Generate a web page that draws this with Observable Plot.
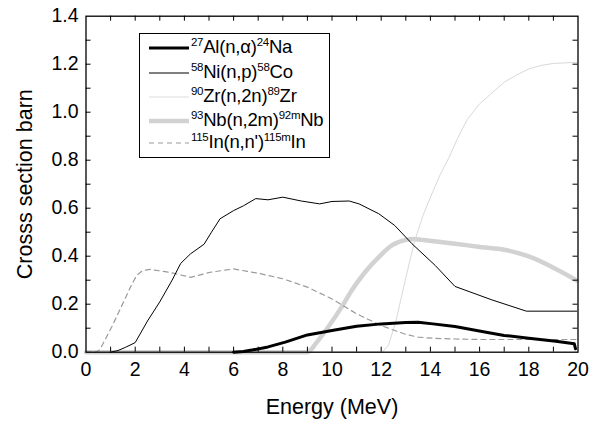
<!DOCTYPE html>
<html>
<head>
<meta charset="utf-8">
<script src="https://cdn.jsdelivr.net/npm/d3@7"></script>
<script src="https://cdn.jsdelivr.net/npm/@observablehq/plot@0.6"></script>
<style>
  html, body { margin: 0; padding: 0; background: #fff; }
  #wrap { position: relative; width: 600px; height: 428px; font-family: "Liberation Sans", Arial, sans-serif; }
  #legend { position: absolute; left: 139px; top: 33px; width: 191px; height: 125px; border: 1px solid #000; background: #fff; box-sizing: border-box; }
  .row { position: absolute; left: 0; height: 22px; display: flex; align-items: center; }
  .row svg { margin-left: 9px; margin-right: 2px; }
  .lab { font-size: 18.5px; color: #000; white-space: nowrap; line-height: 22px; letter-spacing: -0.2px; }
  .lab sup { font-size: 11.5px; vertical-align: 0; position: relative; top: -7px; letter-spacing: -0.3px; }
</style>
</head>
<body>
<div id="wrap"><div id="chart"></div><div id="legend"></div></div>
<script>
// ---- data ----
const alE = [6.0, 6.4, 6.8, 7.4, 8.1, 9.0, 10.0, 11.0, 12.0, 13.0, 13.5, 14.1, 15.0, 16.1, 17.0, 18.0, 19.1, 19.85, 19.9];
const alV = [0, 0.003, 0.01, 0.022, 0.042, 0.072, 0.09, 0.108, 0.118, 0.124, 0.125, 0.118, 0.107, 0.086, 0.07, 0.058, 0.046, 0.035, 0.014];

const niE = [1.0, 1.3, 1.6, 2.0, 2.5, 3.0, 3.5, 3.85, 4.25, 4.8, 5.1, 5.45, 6.0, 6.4, 6.9, 7.4, 8.0, 8.75, 9.5, 10.0, 10.7, 11.1, 11.9, 12.55, 13.25, 14.2, 15.0, 16.5, 17.9, 19.95];
const niV = [0, 0.007, 0.02, 0.04, 0.13, 0.21, 0.30, 0.37, 0.41, 0.45, 0.50, 0.556, 0.59, 0.61, 0.64, 0.635, 0.646, 0.63, 0.618, 0.628, 0.63, 0.618, 0.577, 0.528, 0.452, 0.361, 0.274, 0.218, 0.171, 0.171];

const zrE = [0, 12.05, 12.3, 12.6, 13.0, 13.35, 13.7, 14.1, 14.4, 14.75, 15.1, 15.5, 16.0, 16.5, 17.0, 17.5, 18.0, 18.5, 19.0, 19.95];
const zrV = [0, 0, 0.03, 0.13, 0.31, 0.46, 0.57, 0.67, 0.74, 0.81, 0.89, 0.97, 1.035, 1.08, 1.125, 1.155, 1.18, 1.195, 1.203, 1.208];

const nbE = [0, 9.0, 9.37, 9.84, 10.39, 10.8, 11.34, 11.9, 12.43, 13.0, 13.3, 13.65, 15.0, 16.1, 17.0, 18.0, 19.1, 19.95];
const nbV = [0, 0, 0.04, 0.104, 0.188, 0.257, 0.333, 0.396, 0.445, 0.468, 0.472, 0.468, 0.452, 0.4375, 0.427, 0.399, 0.347, 0.299];

const inE = [0, 0.4, 0.56, 1.04, 1.52, 1.8, 2.06, 2.3, 2.6, 3.4, 4.25, 5.05, 6.0, 7.0, 8.0, 9.0, 10.0, 11.0, 12.0, 13.0, 13.5, 14.1, 15.0, 16.0, 18.0, 19.95];
const inV = [0, 0, 0.01, 0.104, 0.208, 0.27, 0.32, 0.34, 0.345, 0.333, 0.312, 0.333, 0.347, 0.329, 0.306, 0.271, 0.222, 0.16, 0.111, 0.074, 0.063, 0.058, 0.055, 0.053, 0.053, 0.053];

const xTickLabels = [0, 2, 4, 6, 8, 10, 12, 14, 16, 18, 20];
const xMinorTicks = [1, 2, 3, 4, 5, 6, 7, 8, 9, 10, 11, 12, 13, 14, 15, 16, 17, 18, 19];
const yTickLabels = [0, 0.2, 0.4, 0.6, 0.8, 1.0, 1.2, 1.4];
const yMinorTicks = [0.1, 0.2, 0.3, 0.4, 0.5, 0.6, 0.7, 0.8, 0.9, 1.0, 1.1, 1.2, 1.3];

const legendHTML = [
  "<sup>27</sup>Al(n,&alpha;)<sup>24</sup>Na",
  "<sup>58</sup>Ni(n,p)<sup>58</sup>Co",
  "<sup>90</sup>Zr(n,2n)<sup>89</sup>Zr",
  "<sup>93</sup>Nb(n,2m)<sup>92m</sup>Nb",
  "<sup>115</sup>In(n,n')<sup>115m</sup>In"
];

const toRows = (E, V) => E.map((e, i) => ({e, v: V[i]}));

// ---- layout ----
const W = 600, H = 428, ML = 85.5, MR = 22.5, MT = 15.7, MB = 76.3;
const plotW = W - ML - MR, plotH = H - MT - MB, TL = 5;
const FS = 19.5, TFS = 21.5;

const styles = {
  al: {stroke: "#000", strokeWidth: 3},
  ni: {stroke: "#000", strokeWidth: 1},
  zr: {stroke: "#d9d9d9", strokeWidth: 1},
  nb: {stroke: "#d2d2d2", strokeWidth: 4.5},
  in: {stroke: "#9a9a9a", strokeWidth: 1.2, strokeDasharray: "5,4"}
};

const chart = Plot.plot({
  width: W, height: H,
  marginLeft: ML, marginRight: MR, marginTop: MT, marginBottom: MB,
  style: {fontFamily: "'Liberation Sans', Arial, sans-serif", fontSize: FS + "px", color: "#000", background: "#fff"},
  x: {domain: [0, 20]},
  y: {domain: [0, 1.4]},
  marks: [
    Plot.line(toRows(nbE, nbV), {x: "e", y: "v", ...styles.nb, curve: "monotone-x"}),
    Plot.line(toRows(zrE, zrV), {x: "e", y: "v", ...styles.zr}),
    Plot.line(toRows(inE, inV), {x: "e", y: "v", ...styles.in}),
    Plot.line(toRows(alE, alV), {x: "e", y: "v", ...styles.al}),
    Plot.line(toRows(niE, niV), {x: "e", y: "v", ...styles.ni}),
    Plot.frame({stroke: "#000", strokeWidth: 1.3}),
    Plot.tickX(xMinorTicks, {x: d => d, insetTop: plotH - TL, stroke: "#000"}),
    Plot.tickX(xMinorTicks, {x: d => d, insetBottom: plotH - TL, stroke: "#000"}),
    Plot.tickY(yMinorTicks, {y: d => d, insetRight: plotW - TL, stroke: "#000"}),
    Plot.tickY(yMinorTicks, {y: d => d, insetLeft: plotW - TL, stroke: "#000"}),
    Plot.axisX(xTickLabels, {tickSize: 0, tickPadding: 10, label: null, fontSize: FS}),
    Plot.axisY(yTickLabels, {tickSize: 0, tickPadding: 7.5, tickFormat: d3.format(".1f"), label: null, fontSize: FS}),
    Plot.text(["Energy (MeV)"], {frameAnchor: "bottom", dy: 62, fontSize: TFS}),
    Plot.text(["Crosss section barn"], {frameAnchor: "left", textAnchor: "middle", dx: -61, rotate: -90, fontSize: TFS})
  ]
});
document.getElementById("chart").appendChild(chart);

// ---- legend ----
const legend = document.getElementById("legend");
const keys = ["al", "ni", "zr", "nb", "in"];
const legendStroke = {al: "#000", ni: "#555", zr: "#dcdcdc", nb: "#d2d2d2", in: "#9a9a9a"};
const rowTops = [3, 28, 52, 75.5, 98];
keys.forEach((k, i) => {
  const s = styles[k];
  const row = document.createElement("div");
  row.className = "row";
  row.style.top = rowTops[i] + "px";
  const dash = s.strokeDasharray ? `stroke-dasharray="${s.strokeDasharray}"` : "";
  row.innerHTML = `<svg width="40" height="10"><line x1="0" y1="5" x2="40" y2="5" stroke="${legendStroke[k]}" stroke-width="${k === 'ni' ? 1.3 : s.strokeWidth}" ${dash}></line></svg><span class="lab">${legendHTML[i]}</span>`;
  legend.appendChild(row);
});
</script>
</body>
</html>
